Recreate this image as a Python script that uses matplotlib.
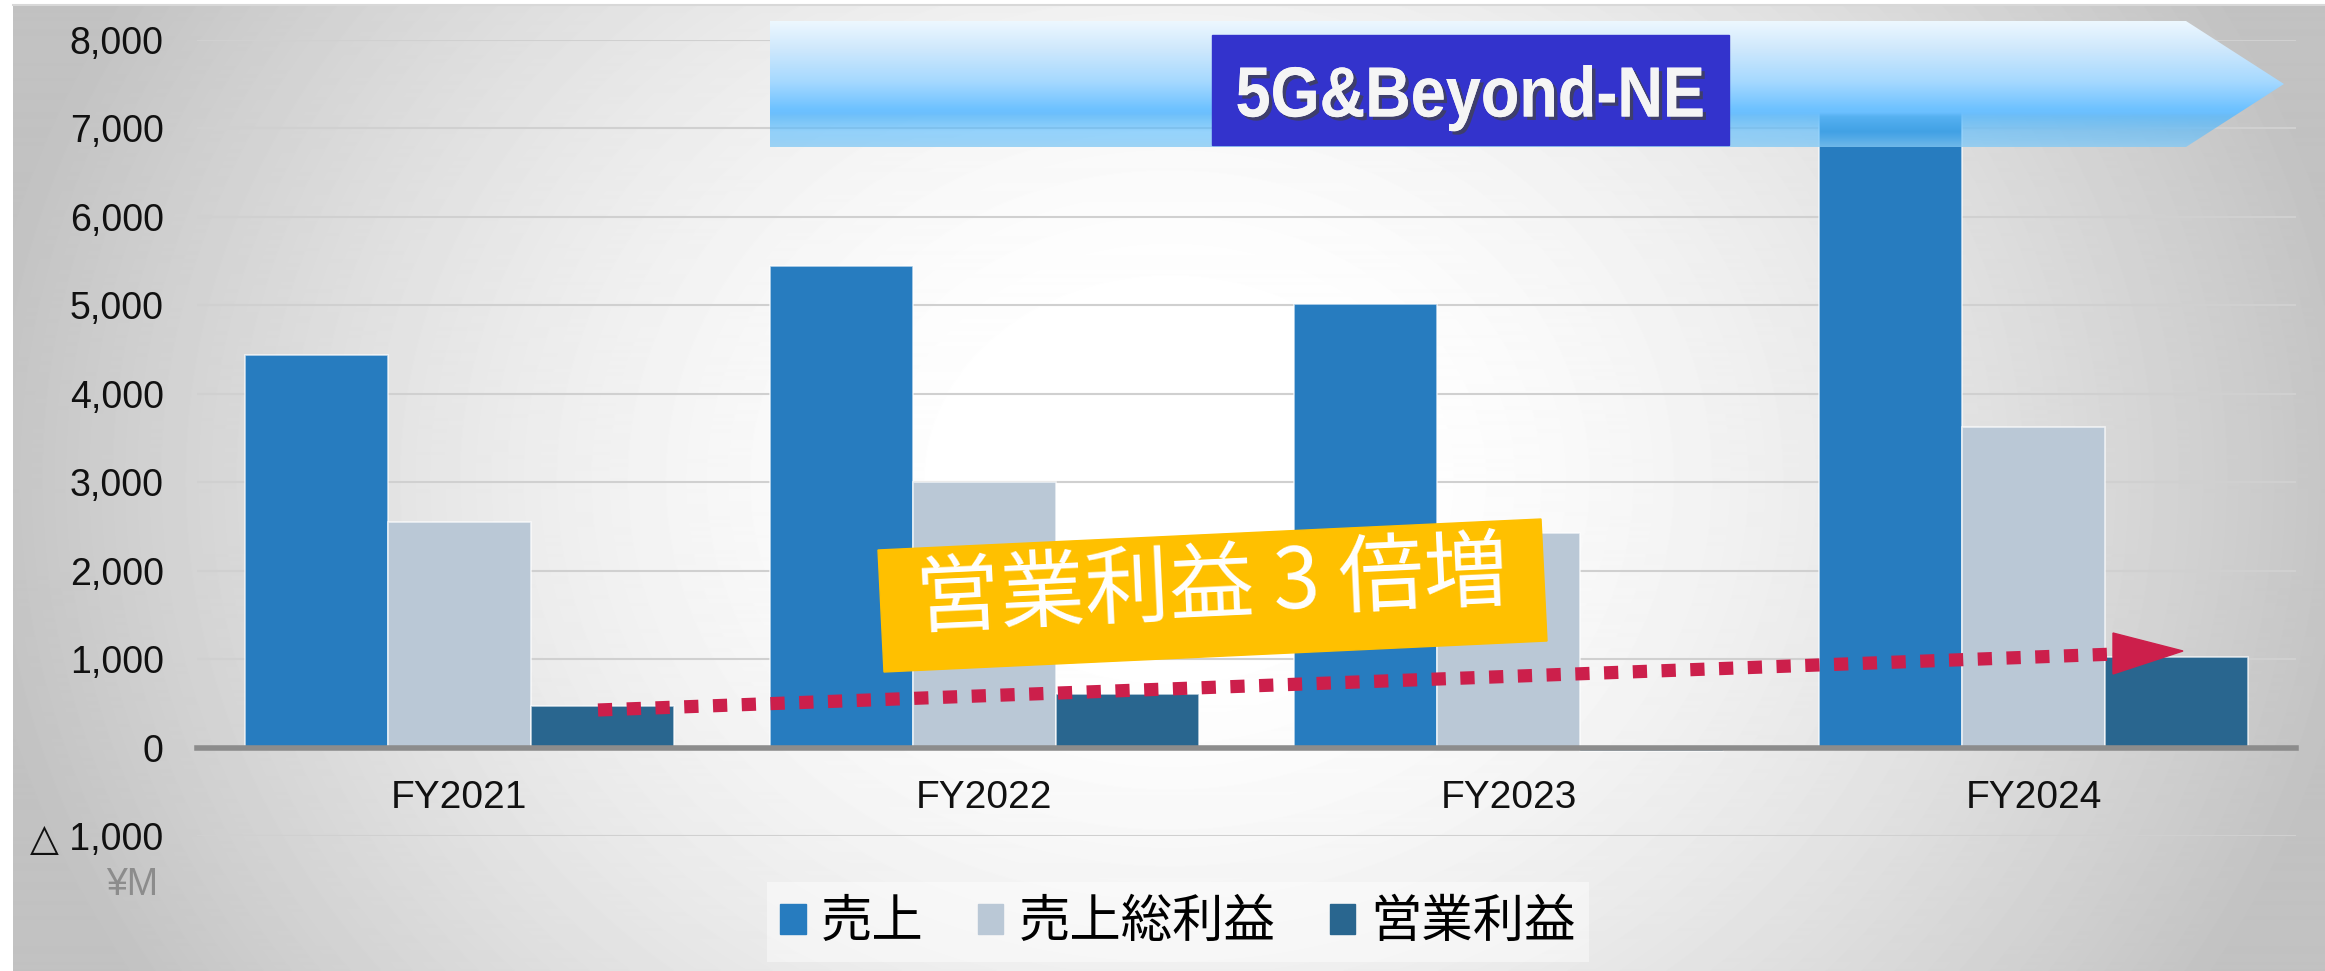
import numpy as np
import matplotlib
matplotlib.use('Agg')
import matplotlib.pyplot as plt
import matplotlib.patheffects as pe
from matplotlib.font_manager import FontProperties
from matplotlib.patches import Polygon, Rectangle, Patch, PathPatch
from matplotlib.textpath import TextPath
from matplotlib.transforms import Affine2D

# chart data (¥M)
years = ['FY2021', 'FY2022', 'FY2023', 'FY2024']
sales = [4440, 5450, 5010, 7200]
gross_profit = [2550, 3000, 2430, 3620]
op_profit = [475, 600, -40, 1020]
series_names = ['売上', '売上総利益', '営業利益']
series_colors = ['#277CBF', '#BAC8D6', '#29668F']
y_ticks = [-1000, 0, 1000, 2000, 3000, 4000, 5000, 6000, 7000, 8000]
y_tick_labels = ['△ 1,000', '0', '1,000', '2,000', '3,000', '4,000',
                 '5,000', '6,000', '7,000', '8,000']

CJK = ['Noto Sans CJK JP', 'DejaVu Sans']
plt.rcParams['font.family'] = ['Liberation Sans', 'DejaVu Sans']

W, H = 2325, 971
fig = plt.figure(figsize=(W / 100, H / 100), dpi=100, facecolor='white')

# radial grey -> white background
bg = fig.add_axes([13 / W, 0, 1 - 13 / W, (H - 5) / H], zorder=0)
yy, xx = np.mgrid[5:H, 13:W]
d = np.sqrt(((xx - 1170) / 1200.0) ** 2 + ((yy - 480) / 1000.0) ** 2)
t = np.clip((d - 0.15) / 0.85, 0, 1) ** 1.5
bg.imshow(1 - 0.24 * t, cmap='gray', vmin=0, vmax=1, aspect='auto')
bg.axis('off')

# main chart
ax = fig.add_axes([197 / W, 1 - 836 / H, (2296 - 197) / W, (836 - 40) / H], zorder=1)
ax.patch.set_alpha(0)
x = np.arange(len(years))
w = 0.2725
for i, (vals, c) in enumerate(zip([sales, gross_profit, op_profit], series_colors)):
    ax.bar(x + (i - 1) * w, vals, width=w, color=c,
           edgecolor=(1, 1, 1, 0.7), linewidth=1.2, zorder=2)

ax.set_xlim(-0.5, 3.5)
ax.set_ylim(-1000, 8000)
ax.set_yticks(y_ticks)
ax.set_yticklabels(y_tick_labels)
ax.set_xticks(x)
ax.set_xticklabels(years)
ax.tick_params(axis='both', length=0, labelcolor='#111111')
ax.tick_params(axis='y', pad=24, labelsize=27)
ax.tick_params(axis='x', pad=23, labelsize=28)
ax.grid(axis='y', color='#D0D0D0', linewidth=1.5)
ax.set_axisbelow(True)
for s in ['left', 'right', 'top']:
    ax.spines[s].set_visible(False)
ax.spines['bottom'].set_position(('data', 0))
ax.spines['bottom'].set_color('#8C8C8C')
ax.spines['bottom'].set_linewidth(4)
ax.spines['bottom'].set_zorder(3)

# overlay in pixel coordinates for the decorations
ov = fig.add_axes([0, 0, 1, 1], zorder=2)
ov.patch.set_alpha(0)
ov.axis('off')

ov.plot([13, W], [5, 5], color='#D8D8D8', lw=1.5)

# banner arrow with vertical gradient
arrow_pts = [(770, 21), (2186, 21), (2284, 84), (2186, 147), (770, 147)]
f = np.linspace(0, 1, 200)
stops = [0.0, 0.22, 0.48, 0.70, 0.73, 0.76, 0.88, 1.0]
r = np.interp(f, stops, [0.93, 0.81, 0.65, 0.43, 0.42, 0.37, 0.33, 0.52])
g = np.interp(f, stops, [0.97, 0.91, 0.85, 0.76, 0.75, 0.73, 0.73, 0.79])
b = np.interp(f, stops, [1.00, 0.99, 1.00, 1.00, 1.00, 0.98, 1.00, 0.96])
a = np.interp(f, stops, [1.0, 1.0, 1.0, 1.0, 1.0, 0.86, 0.6, 0.78])
grad = np.stack([r, g, b, a], axis=1)[:, None, :]
im = ov.imshow(grad, extent=(770, 2284, 147, 21), aspect='auto', interpolation='bilinear')
clip = Polygon(arrow_pts, closed=True, transform=ov.transData)
im.set_clip_path(clip)

ov.add_patch(Rectangle((1212, 35), 517, 110, color='#3333CC'))

# condensed bold banner text, built as a path so it can be squeezed
tp = TextPath((0, 0), '5G&Beyond-NE', size=71,
              prop=FontProperties(family='Liberation Sans', weight='bold'))
ext = tp.get_extents()
sx = 465.0 / ext.width
x0 = 1470 - sx * (ext.x0 + ext.width / 2)
banner_tf = Affine2D().scale(sx, -1).translate(x0, 116.5) + ov.transData
ov.add_patch(PathPatch(tp, transform=banner_tf, facecolor='#F5F5F5', edgecolor='none',
                       path_effects=[pe.withSimplePatchShadow(offset=(2.5, -2.5),
                                                              shadow_rgbFace='#444444',
                                                              alpha=0.7),
                                     pe.Normal()]))

# red dotted trend arrow
ov.plot([598, 2116], [710, 654], color='#CC1F4B', lw=9.5, dashes=(1.08, 1.1),
        dash_capstyle='butt')
ov.add_patch(Polygon([(2113, 633), (2183, 651), (2113, 674)], closed=True, color='#CC1F4B'))

# yellow call-out
ov.add_patch(Polygon([(878, 550), (1541, 519), (1547, 641), (884, 672)], closed=True,
                     color='#FFC000'))
ov.text(1212, 588, '営業利益 3 倍増', ha='center', va='center', rotation=2.68,
        rotation_mode='anchor', fontsize=61, color='white', family=CJK)

ov.text(132, 885, '¥M', ha='center', va='center', fontsize=27, color='#8C8C8C')

ov.set_xlim(0, W)
ov.set_ylim(H, 0)

handles = [Patch(color=c) for c in series_colors]
fig.legend(handles, series_names, loc='center', bbox_to_anchor=(1178 / W, 1 - 922 / H),
           ncol=3, prop={'family': CJK, 'size': 37}, handlelength=0.5, handleheight=0.52,
           handletextpad=0.3, columnspacing=1.05, frameon=True, facecolor='white',
           framealpha=0.45, edgecolor='none', fancybox=False, borderpad=0.25)

fig.savefig('out.png', dpi=100, facecolor='white')
